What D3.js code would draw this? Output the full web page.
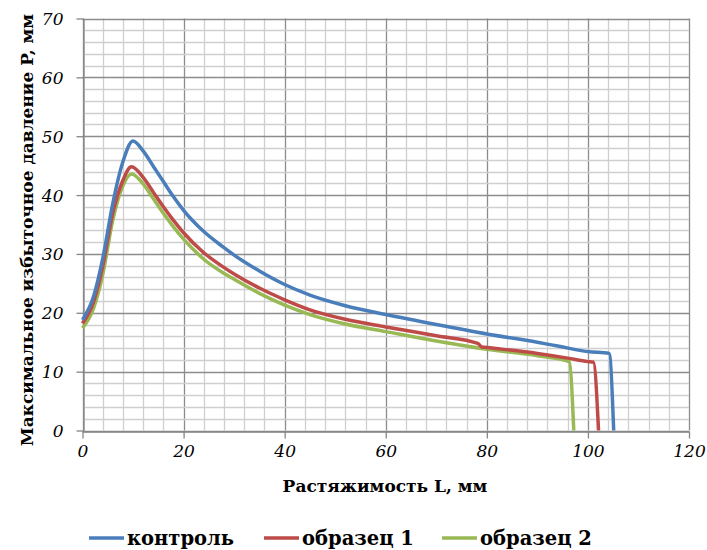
<!DOCTYPE html>
<html>
<head>
<meta charset="utf-8">
<script src="https://cdn.jsdelivr.net/npm/d3@7"></script>
<style>
    body { margin: 0; background: #fff; }
    svg text { fill: #000; }
    .tick-lbl { font-family: 'DejaVu Serif', serif; font-style: italic; font-size: 17px; }
    .ax-title { font-family: 'DejaVu Serif', serif; font-weight: bold; font-size: 17px; }
    .leg-lbl { font-family: 'DejaVu Serif', serif; font-weight: bold; font-size: 19.5px; }
</style>
</head>
<body>
<div id="viz"></div>
<script>
// values: L (mm) and P (mm)
var kontrolL = [0, 2.2, 4, 6, 7.9, 10, 12, 14, 16, 18, 20, 24, 27.8, 30, 35, 40, 45, 52, 60, 70, 80, 90, 94.3, 100, 104.2, 105.1],
    kontrolP = [18.8, 22.8, 29.2, 38.6, 45.4, 49.2, 47.5, 44.9, 42.3, 39.7, 37.4, 33.8, 31.2, 29.8, 27.1, 24.8, 23.0, 21.2, 19.7, 18.0, 16.4, 15.0, 14.3, 13.4, 13.1, 0],

    obr1L = [0, 2.2, 4, 6, 7.9, 9.7, 12, 14, 16, 18, 20, 24, 27.8, 30, 35, 40, 45, 52, 60, 70, 78.2, 79, 80, 90, 96, 100, 101.1, 102.1],
    obr1P = [18.2, 21.9, 27.9, 37, 42.3, 44.8, 43.0, 40.5, 38.0, 35.7, 33.6, 30.2, 27.8, 26.6, 24.2, 22.2, 20.5, 18.9, 17.6, 16.1, 14.8, 14.2, 14.1, 13.1, 12.3, 11.7, 11.6, 0],

    obr2L = [0, 2.2, 4, 6, 7.9, 9.7, 12, 14, 16, 18, 20, 24, 27.8, 30, 35, 40, 45, 52, 60, 70, 80, 90, 96.3, 97.2],
    obr2P = [17.4, 20.8, 26.5, 35.8, 41.4, 43.6, 41.9, 39.4, 36.9, 34.6, 32.5, 29.1, 26.8, 25.7, 23.3, 21.3, 19.7, 18.1, 16.8, 15.2, 13.8, 12.7, 11.7, 0],

    seriesNames = ['контроль', 'образец 1', 'образец 2'],
    seriesColors = ['#4A7EBB', '#BE4B48', '#98B954'],
    xTicks = [0, 20, 40, 60, 80, 100, 120],
    yTicks = [0, 10, 20, 30, 40, 50, 60, 70],
    xTitle = 'Растяжимость L, мм',
    yTitle = 'Максимальное избыточное давление P, мм';

var plotL = 82.5, plotR = 689, plotT = 18.5, plotB = 430.5,

    svg = d3.select('#viz')
        .append('svg')
            .attr('width', 707)
            .attr('height', 550),

    x = d3.scaleLinear().domain([0, 120]).range([plotL, plotR]),
    y = d3.scaleLinear().domain([0, 70]).range([plotB, plotT]),

    gridGroup = svg.append('g').attr('class', 'grid'),
    axisGroup = svg.append('g').attr('class', 'axes'),
    linesGroup = svg.append('g').attr('class', 'lines'),
    legendGroup = svg.append('g').attr('class', 'legend');

// grid: minor every 4 (x) and 2 (y), major at the ticks
gridGroup.selectAll('line.vx')
    .data(d3.range(0, 121, 4))
    .enter().append('line')
        .attr('x1', function (d) { return Math.round(x(d)) + 0.5; })
        .attr('x2', function (d) { return Math.round(x(d)) + 0.5; })
        .attr('y1', plotT)
        .attr('y2', plotB)
        .style('stroke', function (d) { return d % 20 === 0 ? '#8c8c8c' : '#cfcfcf'; })
        .style('stroke-width', 1.3);

gridGroup.selectAll('line.hy')
    .data(d3.range(0, 71, 2))
    .enter().append('line')
        .attr('x1', plotL)
        .attr('x2', plotR)
        .attr('y1', function (d) { return Math.round(y(d)) + 0.5; })
        .attr('y2', function (d) { return Math.round(y(d)) + 0.5; })
        .style('stroke', function (d) { return d % 10 === 0 ? '#8c8c8c' : '#cfcfcf'; })
        .style('stroke-width', 1.3);

// axes
var xAxis = axisGroup.append('g')
    .attr('transform', 'translate(0,' + (Math.round(plotB) + 0.5) + ')')
    .call(d3.axisBottom(x).tickValues(xTicks).tickSize(7).tickSizeOuter(0).tickFormat(d3.format('d')));

var yAxis = axisGroup.append('g')
    .attr('transform', 'translate(' + (Math.round(plotL) + 0.5) + ',0)')
    .call(d3.axisLeft(y).tickValues(yTicks).tickSize(7).tickSizeOuter(0).tickFormat(d3.format('d')));

axisGroup.selectAll('.domain').style('stroke', '#868686').style('stroke-width', 1.3);
axisGroup.selectAll('.tick line').style('stroke', '#868686').style('stroke-width', 1.3);
axisGroup.selectAll('.tick text').attr('class', 'tick-lbl');
xAxis.attr('font-family', null).attr('font-size', null);
yAxis.attr('font-family', null).attr('font-size', null);
xAxis.selectAll('.tick text').attr('y', 25).attr('dy', 0);
yAxis.selectAll('.tick text').attr('x', -20).attr('dy', '0.35em');

svg.append('text')
    .attr('class', 'ax-title')
    .attr('x', 385)
    .attr('y', 492)
    .attr('text-anchor', 'middle')
    .text(xTitle);

svg.append('text')
    .attr('class', 'ax-title')
    .attr('transform', 'translate(33,230) rotate(-90)')
    .attr('text-anchor', 'middle')
    .text(yTitle);

// curves
var lineGen = d3.line()
    .x(function (d) { return x(d[0]); })
    .y(function (d) { return y(d[1]); })
    .curve(d3.curveMonotoneX);

var allL = [kontrolL, obr1L, obr2L],
    allP = [kontrolP, obr1P, obr2P];

for (var s = 2; s >= 0; s -= 1) {
    linesGroup.append('path')
        .datum(d3.zip(allL[s], allP[s]))
        .attr('d', lineGen)
        .style('fill', 'none')
        .style('stroke', seriesColors[s])
        .style('stroke-width', 3.5)
        .style('stroke-linejoin', 'round');
}

// legend
var legX = [89, 264, 442];
for (var i = 0; i < 3; i += 1) {
    legendGroup.append('line')
        .attr('x1', legX[i])
        .attr('x2', legX[i] + 35)
        .attr('y1', 538)
        .attr('y2', 538)
        .style('stroke', seriesColors[i])
        .style('stroke-width', 3.5);

    legendGroup.append('text')
        .attr('class', 'leg-lbl')
        .attr('x', legX[i] + 38)
        .attr('y', 545)
        .text(seriesNames[i]);
}
</script>
</body>
</html>
